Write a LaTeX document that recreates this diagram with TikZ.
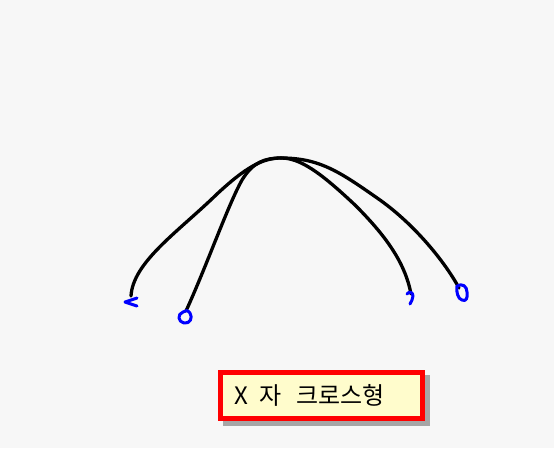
\documentclass[tikz,border=0pt]{standalone}
\usepackage{fontspec}
\newfontfamily\kr{Noto Sans CJK KR}
\begin{document}
\begin{tikzpicture}[x=1pt,y=-1pt,
  wire/.style={line width=3.3pt,black,line cap=round,line join=round},
  tip/.style={line width=3pt,blue,line cap=round,line join=round},
  labelbox/.style={draw=red,line width=5pt,fill=yellow!20,minimum width=202pt,minimum height=46pt,inner sep=0pt}]
\useasboundingbox[fill=black!3] (0,0) rectangle (554,448);
\coordinate (top) at (281,158);
\coordinate (a) at (131,296);
\coordinate (b) at (186,311);
\coordinate (c) at (411,294);
\coordinate (d) at (459,288);
% curves
\draw[wire] (a) .. controls (133,262) and (178,232) .. (217,194) .. controls (245,168) and (262,158) .. (top);
\draw[wire] (b) .. controls (207,265) and (228,205) .. (242,180) .. controls (253,162) and (265,158) .. (top);
\draw[wire] (c) .. controls (405,262) and (385,235) .. (355,205) .. controls (320,172) and (300,158) .. (top);
\draw[wire] (d) .. controls (445,262) and (415,225) .. (380,200) .. controls (340,172) and (320,158) .. (top);
% blue ends
\draw[tip] (137,298) -- (125,302) -- (137,306);
\draw[tip] (183,312) .. controls (177,314) and (178,322) .. (184,323) .. controls (190,324) and (193,318) .. (190,313) .. controls (188,310) and (185,310) .. (183,312);
\draw[tip] (407,294) .. controls (409,291) and (413,292) .. (413,296) .. controls (413,299) and (411,302) .. (410,304);
\draw[tip] (457,286) .. controls (462,283) and (467,286) .. (467,292) .. controls (468,298) and (466,302) .. (462,300) .. controls (458,299) and (456,292) .. (457,286);
% label
\fill[black!35] (223,375) rectangle (430,426);
\node[labelbox] (lbl) at (321,395) {};
\node[font=\kr\fontsize{24}{24}\selectfont,anchor=west,inner sep=0pt] (txt) at (234,395) {X\hspace{12pt}자\hspace{14pt}크로스형};
\end{tikzpicture}
\end{document}
